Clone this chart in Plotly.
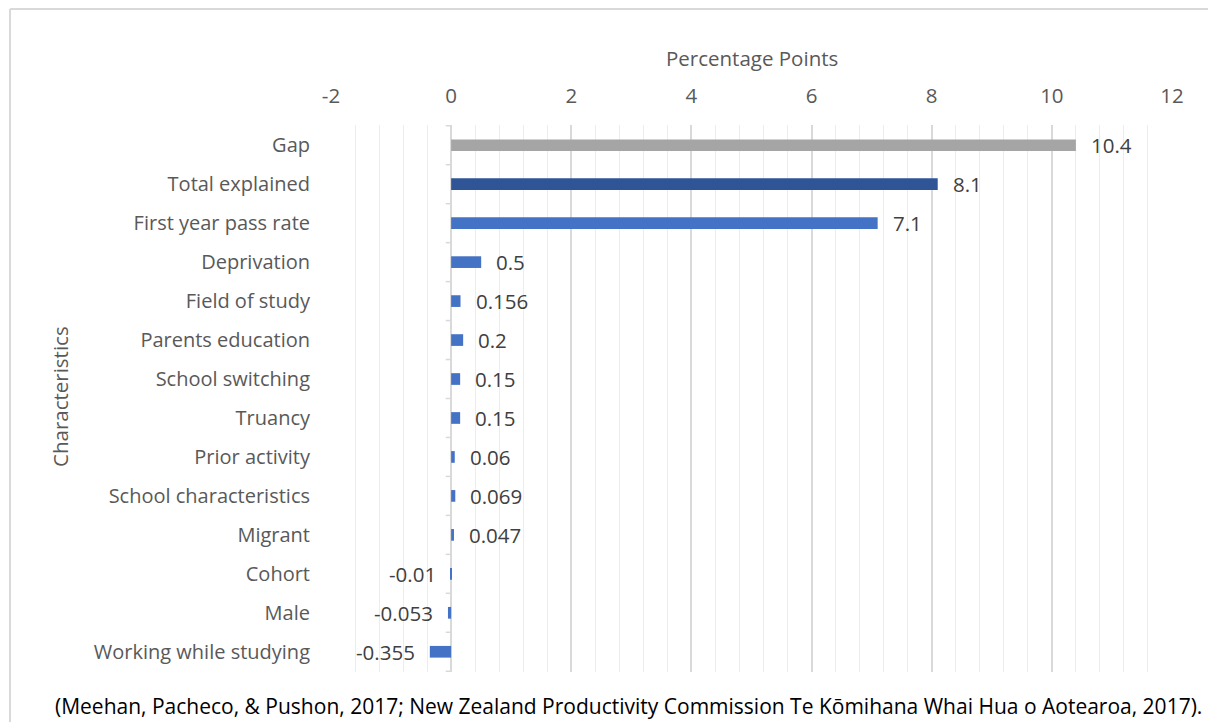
import plotly.graph_objects as go

categories = ["Gap", "Total explained", "First year pass rate", "Deprivation", "Field of study",
              "Parents education", "School switching", "Truancy", "Prior activity",
              "School characteristics", "Migrant", "Cohort", "Male", "Working while studying"]
values = [10.4, 8.1, 7.1, 0.5, 0.156, 0.2, 0.15, 0.15, 0.06, 0.069, 0.047, -0.01, -0.053, -0.355]
value_labels = ["10.4", "8.1", "7.1", "0.5", "0.156", "0.2", "0.15", "0.15", "0.06", "0.069",
                "0.047", "-0.01", "-0.053", "-0.355"]
bar_colors = ["#A5A5A5", "#2F5597"] + ["#4472C4"] * 12
x_ticks = [-2, 0, 2, 4, 6, 8, 10, 12]

W, H = 1208, 722
ML, MR, MT, MB = 331, 36, 125, 50
PW, PH = W - ML - MR, H - MT - MB

FONT = "Open Sans"
GREY = "#595959"

fig = go.Figure()
fig.add_trace(go.Bar(
    y=categories, x=values, orientation="h",
    marker=dict(color=bar_colors, line=dict(width=0)),
    width=0.3, hoverinfo="x+y",
))

annotations = []
for c, v, lab in zip(categories, values, value_labels):
    annotations.append(dict(
        x=v, y=c, xref="x", yref="y", text=lab, showarrow=False,
        xanchor="left" if v >= 0 else "right",
        xshift=13 if v >= 0 else -13,
        font=dict(family=FONT, size=20.5, color="#404040"),
    ))

def px_x(p):
    return (p - ML) / PW

def px_y(p):
    return (H - MB - p) / PH

annotations += [
    dict(text="Percentage Points", x=px_x(752), y=px_y(58), xref="paper", yref="paper",
         showarrow=False, xanchor="center", yanchor="middle",
         font=dict(family=FONT, size=20.5, color=GREY)),
    dict(text="Characteristics", x=px_x(60), y=px_y(397), xref="paper", yref="paper",
         showarrow=False, xanchor="center", yanchor="middle", textangle=-90,
         font=dict(family=FONT, size=20.5, color=GREY)),
    dict(text="(Meehan, Pacheco, & Pushon, 2017; New Zealand Productivity Commission Te Kōmihana Whai Hua o Aotearoa, 2017).",
         x=px_x(1204), y=px_y(706), xref="paper", yref="paper",
         showarrow=False, xanchor="right", yanchor="middle",
         font=dict(family=FONT, size=21, color="#000000")),
]

shapes = [
    dict(type="line", xref="paper", yref="paper", x0=px_x(10), x1=px_x(10), y0=px_y(9), y1=px_y(H + 5),
         line=dict(color="#D9D9D9", width=2)),
    dict(type="line", xref="paper", yref="paper", x0=px_x(10), x1=px_x(W + 5), y0=px_y(9), y1=px_y(9),
         line=dict(color="#D9D9D9", width=2)),
]
# tick marks on the zero axis at category boundaries
n = len(categories)
for i in range(n + 1):
    shapes.append(dict(type="line", xref="x", yref="y", x0=0, x1=-0.09, y0=i - 0.5, y1=i - 0.5,
                       line=dict(color="#D9D9D9", width=1.5)))

fig.update_layout(
    width=W, height=H,
    margin=dict(l=ML, r=MR, t=MT, b=MB),
    paper_bgcolor="white", plot_bgcolor="white",
    showlegend=False,
    xaxis=dict(
        side="top", range=[-2, 12], tickmode="array", tickvals=x_ticks,
        ticktext=[str(t) for t in x_ticks],
        showgrid=True, gridcolor="#D9D9D9", gridwidth=1.5,
        minor=dict(dtick=0.4, tick0=0, showgrid=True, gridcolor="#EDEDED", gridwidth=1),
        zeroline=True, zerolinecolor="#D9D9D9", zerolinewidth=1.5,
        showline=False, ticks="", ticklabelstandoff=17,
        tickfont=dict(family=FONT, size=20.5, color=GREY),
        fixedrange=True,
    ),
    yaxis=dict(
        categoryorder="array", categoryarray=categories, autorange="reversed",
        showgrid=False, zeroline=False, showline=False, ticks="",
        ticklabelstandoff=20,
        tickfont=dict(family=FONT, size=20, color=GREY),
        fixedrange=True,
    ),
    annotations=annotations,
    shapes=shapes,
)

fig.write_html("out.html", config={"displayModeBar": False},
               post_script="document.body.style.margin='0';document.body.style.overflow='hidden';")
